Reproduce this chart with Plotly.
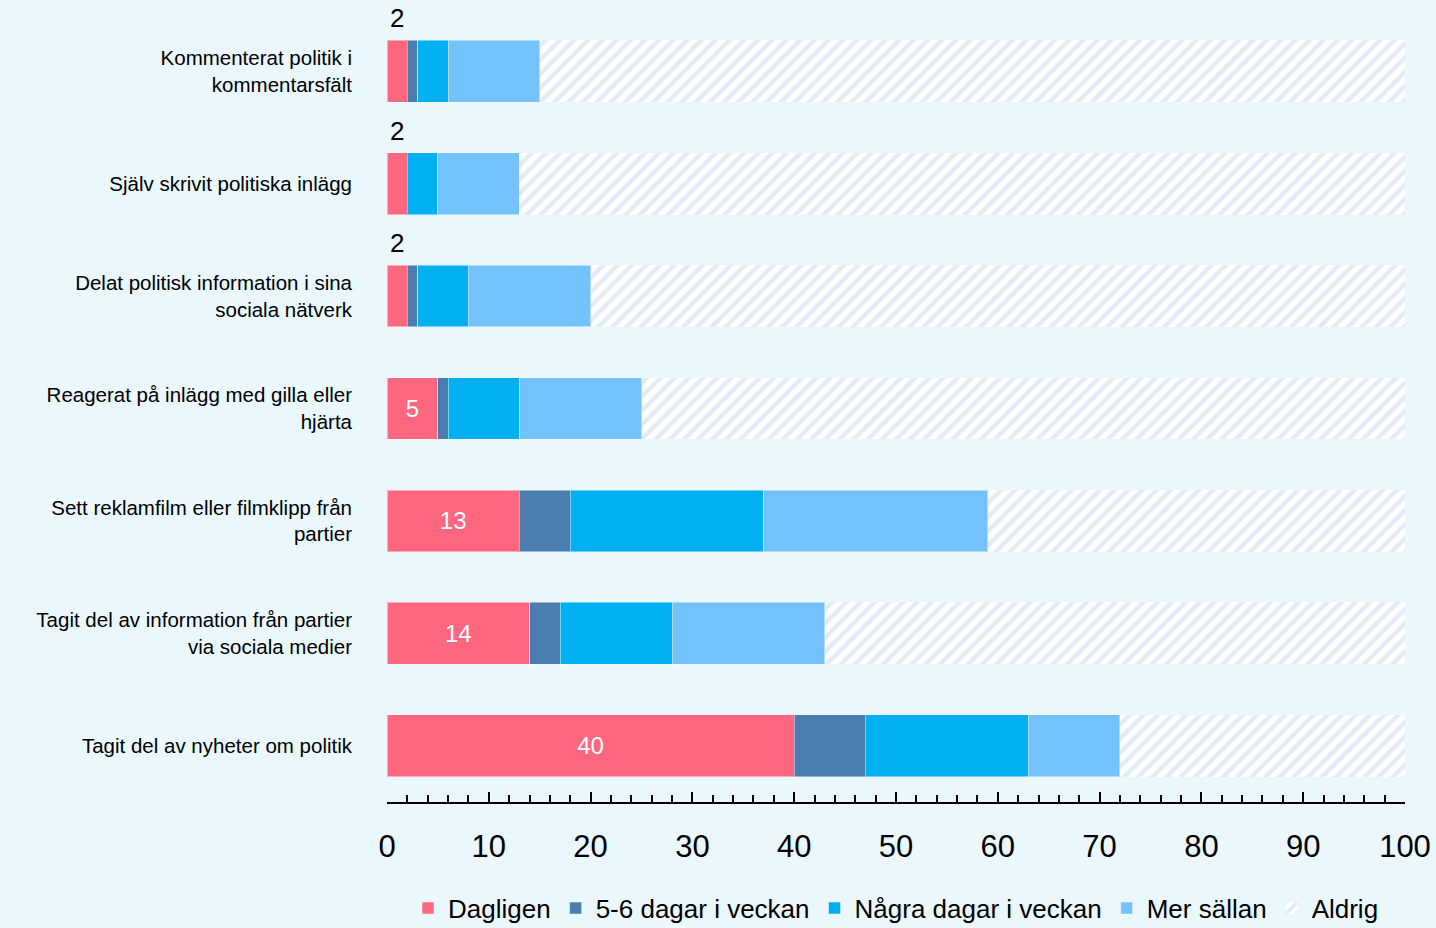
import plotly.graph_objects as go

categories = [
    "Kommenterat politik i<br>kommentarsfält",
    "Själv skrivit politiska inlägg",
    "Delat politisk information i sina<br>sociala nätverk",
    "Reagerat på inlägg med gilla eller<br>hjärta",
    "Sett reklamfilm eller filmklipp från<br>partier",
    "Tagit del av information från partier<br>via sociala medier",
    "Tagit del av nyheter om politik",
]

dagligen = [2, 2, 2, 5, 13, 14, 40]
dagar_5_6 = [1, 0, 1, 1, 5, 3, 7]
nagra_dagar = [3, 3, 5, 7, 19, 11, 16]
mer_sallan = [9, 8, 12, 12, 22, 15, 9]
aldrig = [85, 87, 80, 75, 41, 57, 28]

FONT = "Liberation Sans Narrow, Arial Narrow, Liberation Sans, Arial, sans-serif"
BG = "#EAF7FD"
edge = dict(color="rgba(255,255,255,0.45)", width=1)

fig = go.Figure()

fig.add_trace(go.Bar(
    y=categories, x=dagligen, name="Dagligen", orientation="h",
    marker=dict(color="#FF6680", line=edge),
    text=[str(v) if v >= 5 else "" for v in dagligen],
    textposition="inside", insidetextanchor="middle",
    textfont=dict(color="white", size=24, family=FONT),
))
fig.add_trace(go.Bar(
    y=categories, x=dagar_5_6, name="5-6 dagar i veckan", orientation="h",
    marker=dict(color="#4A7EB0", line=edge),
))
fig.add_trace(go.Bar(
    y=categories, x=nagra_dagar, name="Några dagar i veckan", orientation="h",
    marker=dict(color="#00B0F0", line=edge),
))
fig.add_trace(go.Bar(
    y=categories, x=mer_sallan, name="Mer sällan", orientation="h",
    marker=dict(color="#73C2FB", line=edge),
))
fig.add_trace(go.Bar(
    y=categories, x=aldrig, name="Aldrig", orientation="h",
    marker=dict(color="white", line=dict(width=0),
                pattern=dict(shape="/", fgcolor="#C6D5EE", bgcolor="white",
                             size=10, solidity=0.45)),
))

# small values written above the bar
for cat, v in zip(categories, dagligen):
    if v < 5:
        fig.add_annotation(x=v / 2, y=cat, text=str(v), showarrow=False,
                           yshift=53, font=dict(size=26, color="black", family=FONT))

fig.update_layout(
    barmode="stack",
    bargap=0.45,
    width=1436, height=928,
    margin=dict(l=387, r=31, t=15, b=126, autoexpand=False),
    paper_bgcolor=BG, plot_bgcolor=BG,
    font=dict(family=FONT, color="black"),
    showlegend=True,
    legend=dict(orientation="h", x=0.5, xanchor="center", y=-0.105, yanchor="top",
                font=dict(size=26, family=FONT), traceorder="normal",
                itemwidth=30, tracegroupgap=0),
    xaxis=dict(
        range=[0, 100], dtick=10, tick0=0, automargin=False,
        showgrid=False, zeroline=False,
        showline=True, linecolor="black", linewidth=2,
        ticks="inside", ticklen=10, tickwidth=2, tickcolor="black",
        minor=dict(dtick=2, ticks="inside", ticklen=7, tickwidth=1.5, tickcolor="black"),
        tickfont=dict(size=31, family=FONT),
        ticklabelstandoff=16,
    ),
    yaxis=dict(
        autorange="reversed", showgrid=False, zeroline=False, showline=False,
        automargin=False,
        ticks="", tickfont=dict(size=20.5, family=FONT), ticklabelstandoff=34,
    ),
)

fig.write_html("out.html", config={"displayModeBar": False},
               post_script="document.body.style.margin='0';")
